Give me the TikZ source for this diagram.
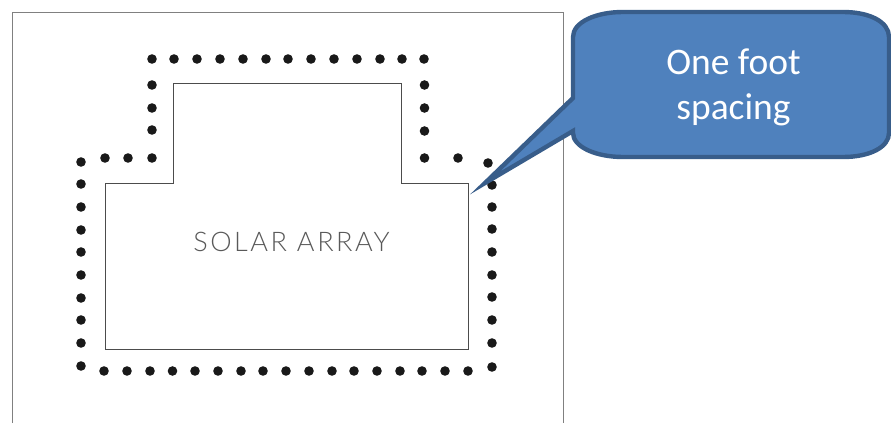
\documentclass[tikz,border=0pt]{standalone}
\usepackage{fontspec}
\setmainfont{Carlito}
\newfontfamily\cadfont[LetterSpace=9.5]{Lato Light}
\definecolor{calloutblue}{HTML}{4F81BD}
\definecolor{calloutedge}{HTML}{385D8A}
\begin{document}
\begin{tikzpicture}
  [
    x=1pt,y=-1pt,
    inner sep=0mm,
    post/.style={circle,fill=black!90,minimum size=9.6pt},
    sheet/.style={draw=black!50,line width=0.9pt},
    outline/.style={draw=black!70,line width=0.9pt},
    callout/.style={draw=calloutedge,fill=calloutblue,line width=4.4pt,line join=miter},
    calloutlabel/.style={text=white,font=\fontsize{37.5}{45}\selectfont,align=center},
    arraylabel/.style={text=black!65,font=\cadfont\fontsize{27}{30}\selectfont},
  ]
  \useasboundingbox (0,0) rectangle (891,423);
  % paper edge
  \draw[sheet] (12,423) -- (12,12) -- (563,12) -- (563,423);
  % array outline
  \draw[outline] (173,83) -- (401,83) -- (401,183) -- (468,183) -- (468,349)
    -- (105,349) -- (105,183) -- (173,183) -- cycle;
  \node (arraytext) at (291.5,241.5) [arraylabel] {SOLAR ARRAY};
  % posts, top run
  \foreach \x [count=\i] in {152,174,197,220,243,266,288,311,334,357,380,402,424}
    \node (top\i) at (\x,59) [post] {};
  \foreach \y [count=\i] in {85,108,130,158}
    \node (upl\i) at (152,\y) [post] {};
  \foreach \y [count=\i] in {85,108,131,158}
    \node (upr\i) at (424.5,\y) [post] {};
  % posts, shoulders
  \foreach \x [count=\i] in {105,128}
    \node (shl\i) at (\x,158) [post] {};
  \node (shr1) at (458,158) [post] {};
  \node (shr2) at (488,163) [post] {};
  % posts, sides
  \foreach \y [count=\i] in {162,184,207,230,252,275,298,320,343,366}
    \node (lft\i) at (81,\y) [post] {};
  \foreach \y [count=\i] in {185,207,229,252,275,297,320,343,367}
    \node (rgt\i) at (492,\y) [post] {};
  % posts, bottom run
  \foreach \x [count=\i] in {104,127,150,172.5,195,218,241,263,286,309,332,354,377,400,422,445,468}
    \node (bot\i) at (\x,371) [post] {};
  % callout
  \draw[callout] (573,37) .. controls (573,22) and (596,12) .. (623,12)
    -- (843,12) .. controls (870,12) and (889,22) .. (889,37)
    -- (889,133) .. controls (889,147) and (870,157) .. (843,157)
    -- (623,157) .. controls (596,157) and (573,147) .. (573,133)
    -- (573,131) -- (485,183) -- (573,98) -- cycle;
  \node (calloutnote) at (733.5,87) [calloutlabel] {One foot\\spacing};
\end{tikzpicture}
\end{document}
